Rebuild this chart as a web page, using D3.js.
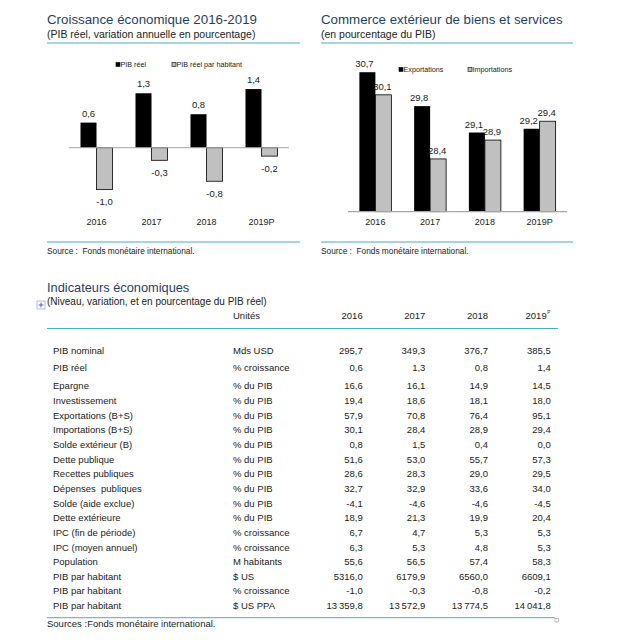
<!DOCTYPE html>
<html>
<head>
<meta charset="utf-8">
<script src="https://cdn.jsdelivr.net/npm/d3@7"></script>
<style>
  body { margin: 0; background: #fff; }
  text { font-family: "Liberation Sans", Arial, sans-serif; white-space: pre; }
</style>
</head>
<body>
<svg width="638" height="640"></svg>
<script>
var years = ['2016', '2017', '2018', '2019P'];
var pibReel = [0.6, 1.3, 0.8, 1.4];
var pibHabitant = [-1.0, -0.3, -0.8, -0.2];
var exportations = [30.7, 29.8, 29.1, 29.2];
var importations = [30.1, 28.4, 28.9, 29.4];

var tableYears = ['2016', '2017', '2018', '2019'];
var rowLabels = ['PIB nominal', 'PIB réel', 'Epargne', 'Investissement', 'Exportations (B+S)',
  'Importations (B+S)', 'Solde extérieur (B)', 'Dette publique', 'Recettes publiques',
  'Dépenses  publiques', 'Solde (aide exclue)', 'Dette extérieure', 'IPC (fin de période)',
  'IPC (moyen annuel)', 'Population', 'PIB par habitant', 'PIB par habitant', 'PIB par habitant'];
var rowUnits = ['Mds USD', '% croissance', '% du PIB', '% du PIB', '% du PIB', '% du PIB', '% du PIB',
  '% du PIB', '% du PIB', '% du PIB', '% du PIB', '% du PIB', '% croissance', '% croissance',
  'M habitants', '$ US', '% croissance', '$ US PPA'];
var rowValues = [
  [295.7, 349.3, 376.7, 385.5],
  [0.6, 1.3, 0.8, 1.4],
  [16.6, 16.1, 14.9, 14.5],
  [19.4, 18.6, 18.1, 18.0],
  [57.9, 70.8, 76.4, 95.1],
  [30.1, 28.4, 28.9, 29.4],
  [0.8, 1.5, 0.4, 0.0],
  [51.6, 53.0, 55.7, 57.3],
  [28.6, 28.3, 29.0, 29.5],
  [32.7, 32.9, 33.6, 34.0],
  [-4.1, -4.6, -4.6, -4.5],
  [18.9, 21.3, 19.9, 20.4],
  [6.7, 4.7, 5.3, 5.3],
  [6.3, 5.3, 4.8, 5.3],
  [55.6, 56.5, 57.4, 58.3],
  [5316.0, 6179.9, 6560.0, 6609.1],
  [-1.0, -0.3, -0.8, -0.2],
  [13359.8, 13572.9, 13774.5, 14041.8]
];

var titleColor = '#1F3F66';
var lineColor = '#4BACC6';
var greyBar = '#C0C0C0';

var svg = d3.select('svg');
svg.append('rect').attr('width', 638).attr('height', 640).attr('fill', '#fff');

function frNum(v) {
  var s = Math.abs(v).toFixed(1).replace('.', ',');
  if (Math.abs(v) >= 10000) {
    s = s.slice(0, s.length - 5) + '\u2009' + s.slice(s.length - 5);
  }
  return (v < 0 ? '-' : '') + s;
}

function header(x, x2, title, sub) {
  svg.append('text').text(title)
    .attr('x', x).attr('y', 24)
    .attr('font-size', 13.3).attr('fill', titleColor);
  svg.append('text').text(sub)
    .attr('x', x).attr('y', 38)
    .attr('font-size', 10.5).attr('fill', '#222');
  svg.append('line')
    .attr('x1', x).attr('x2', x2).attr('y1', 43).attr('y2', 43)
    .attr('stroke', lineColor).attr('stroke-width', 1.2);
  svg.append('line')
    .attr('x1', x).attr('x2', x2).attr('y1', 242).attr('y2', 242)
    .attr('stroke', lineColor).attr('stroke-width', 1.2);
  svg.append('text').text('Source :  Fonds monétaire international.')
    .attr('x', x).attr('y', 253.8)
    .attr('font-size', 8.3).attr('fill', '#222');
}

function legendItem(x, y, color, label) {
  svg.append('rect')
    .attr('x', x).attr('y', y - 2).attr('width', 4).attr('height', 4)
    .attr('fill', color).attr('stroke', '#000').attr('stroke-width', 0.6);
  svg.append('text').text(label)
    .attr('x', x + 4.5).attr('y', y + 2.5)
    .attr('font-size', 7.2).attr('fill', '#222');
}

// ---- Croissance économique ----
header(47, 300, 'Croissance économique 2016-2019', '(PIB réel, variation annuelle en pourcentage)');

var x1 = d3.scaleBand().domain(years).range([69, 289]);
var y1 = d3.scaleLinear().domain([-1.2, 1.6]).range([198, 80.7]);
var bw = 16;

legendItem(116, 64.5, '#000', 'PIB réel');
legendItem(172, 64.5, greyBar, 'PIB réel par habitant');

var g1 = svg.append('g');
g1.selectAll('.reel').data(pibReel).enter().append('rect')
  .attr('x', function(d, i){ return x1(years[i]) + x1.bandwidth() / 2 - bw; })
  .attr('y', function(d){ return y1(Math.max(0, d)); })
  .attr('width', bw)
  .attr('height', function(d){ return Math.abs(y1(d) - y1(0)); })
  .attr('fill', '#000');
g1.selectAll('.hab').data(pibHabitant).enter().append('rect')
  .attr('x', function(d, i){ return x1(years[i]) + x1.bandwidth() / 2; })
  .attr('y', function(d){ return y1(Math.max(0, d)); })
  .attr('width', bw)
  .attr('height', function(d){ return Math.abs(y1(d) - y1(0)); })
  .attr('fill', greyBar).attr('stroke', '#000').attr('stroke-width', 0.8);

svg.append('line')
  .attr('x1', 69).attr('x2', 289).attr('y1', y1(0)).attr('y2', y1(0))
  .attr('stroke', '#A6A6A6').attr('stroke-width', 1);

g1.selectAll('.lr').data(pibReel).enter().append('text')
  .text(function(d){ return frNum(d); })
  .attr('x', function(d, i){ return x1(years[i]) + x1.bandwidth() / 2 - bw / 2; })
  .attr('y', function(d){ return y1(d) - 6; })
  .attr('text-anchor', 'middle').attr('font-size', 9.5).attr('fill', '#222');
g1.selectAll('.lh').data(pibHabitant).enter().append('text')
  .text(function(d){ return frNum(d); })
  .attr('x', function(d, i){ return x1(years[i]) + x1.bandwidth() / 2 + bw / 2; })
  .attr('y', function(d){ return y1(d) + 15.5; })
  .attr('text-anchor', 'middle').attr('font-size', 9.5).attr('fill', '#222');

svg.append('g')
  .attr('transform', 'translate(0,' + 218.5 + ')')
  .call(d3.axisBottom(x1).tickSize(0).tickPadding(0))
  .call(function(g){ g.select('.domain').remove(); })
  .selectAll('text')
  .attr('font-size', 9).attr('fill', '#222')
  .attr('font-family', '"Liberation Sans", Arial, sans-serif');

// ---- Commerce extérieur ----
header(321, 573, 'Commerce extérieur de biens et services', '(en pourcentage du PIB)');

var x2 = d3.scaleBand().domain(years).range([348, 567]);
var y2 = d3.scaleLinear().domain([27, 31]).range([211.7, 60.9]);

legendItem(399, 69.5, '#000', 'Exportations');
legendItem(468, 69.5, greyBar, 'Importations');

var g2 = svg.append('g');
g2.selectAll('.exp').data(exportations).enter().append('rect')
  .attr('x', function(d, i){ return x2(years[i]) + x2.bandwidth() / 2 - bw; })
  .attr('y', function(d){ return y2(d); })
  .attr('width', bw)
  .attr('height', function(d){ return y2(27) - y2(d); })
  .attr('fill', '#000');
g2.selectAll('.imp').data(importations).enter().append('rect')
  .attr('x', function(d, i){ return x2(years[i]) + x2.bandwidth() / 2; })
  .attr('y', function(d){ return y2(d); })
  .attr('width', bw)
  .attr('height', function(d){ return y2(27) - y2(d); })
  .attr('fill', greyBar).attr('stroke', '#000').attr('stroke-width', 0.8);

svg.append('line')
  .attr('x1', 348).attr('x2', 567).attr('y1', y2(27)).attr('y2', y2(27))
  .attr('stroke', '#A6A6A6').attr('stroke-width', 1.2);

g2.selectAll('.le').data(exportations).enter().append('text')
  .text(function(d){ return frNum(d); })
  .attr('x', function(d, i){ return x2(years[i]) + x2.bandwidth() / 2 - bw / 2 - 3; })
  .attr('y', function(d){ return y2(d) - 5; })
  .attr('text-anchor', 'middle').attr('font-size', 9.5).attr('fill', '#222');
g2.selectAll('.li').data(importations).enter().append('text')
  .text(function(d){ return frNum(d); })
  .attr('x', function(d, i){ return x2(years[i]) + x2.bandwidth() / 2 + bw / 2 - 1; })
  .attr('y', function(d){ return y2(d) - 5; })
  .attr('text-anchor', 'middle').attr('font-size', 9.5).attr('fill', '#222');

svg.append('g')
  .attr('transform', 'translate(0,' + 218.5 + ')')
  .call(d3.axisBottom(x2).tickSize(0).tickPadding(0))
  .call(function(g){ g.select('.domain').remove(); })
  .selectAll('text')
  .attr('font-size', 9).attr('fill', '#222')
  .attr('font-family', '"Liberation Sans", Arial, sans-serif');

// ---- Indicateurs économiques ----
svg.append('text').text('Indicateurs économiques')
  .attr('x', 47).attr('y', 292)
  .attr('font-size', 12.8).attr('fill', titleColor);
svg.append('text').text('(Niveau, variation, et en pourcentage du PIB réel)')
  .attr('x', 47).attr('y', 305)
  .attr('font-size', 10).attr('fill', '#222');

// petite poignée de tableau
var icon = svg.append('g').attr('transform', 'translate(37,301)');
icon.append('rect').attr('width', 8).attr('height', 8)
  .attr('fill', '#fff').attr('stroke', '#8FA5C8').attr('stroke-width', 0.7);
icon.append('path').attr('d', 'M4,1.5V6.5M1.5,4H6.5')
  .attr('stroke', '#2F5FB0').attr('stroke-width', 0.9);

var colX = d3.scalePoint().domain(tableYears).range([362.7, 550.7]);
var rowY = d3.scaleLinear().domain([0, 1, 2, rowLabels.length - 1]).range([351, 367.7, 386, 605.7]);

svg.append('text').text('Unités')
  .attr('x', 233).attr('y', 319).attr('font-size', 9.5).attr('fill', '#222');
svg.selectAll('.hdr').data(tableYears).enter().append('text')
  .text(function(d){ return d; })
  .attr('x', function(d, i){ return colX(d) - (i == 3 ? 4 : 0); })
  .attr('y', 319)
  .attr('text-anchor', 'end').attr('font-size', 9.5).attr('fill', '#222');
svg.append('text').text('P')
  .attr('x', colX('2019') - 3.5).attr('y', 314)
  .attr('font-size', 4.5).attr('fill', '#222');

svg.append('line')
  .attr('x1', 47).attr('x2', 558).attr('y1', 328.5).attr('y2', 328.5)
  .attr('stroke', lineColor).attr('stroke-width', 1.2);

var rows = svg.selectAll('.row').data(rowLabels).enter().append('g')
  .attr('transform', function(d, i){ return 'translate(0,' + (rowY(i) + 3.4) + ')'; });
rows.append('text').text(function(d){ return d; })
  .attr('x', 53).attr('font-size', 9.5).attr('fill', '#222');
rows.append('text').text(function(d, i){ return rowUnits[i]; })
  .attr('x', 233).attr('font-size', 9.5).attr('fill', '#222');
rows.each(function(d, i){
  d3.select(this).selectAll('.v').data(rowValues[i]).enter().append('text')
    .text(function(v){ return frNum(v); })
    .attr('x', function(v, j){ return colX(tableYears[j]); })
    .attr('text-anchor', 'end').attr('font-size', 9.5).attr('fill', '#222');
});

svg.append('line')
  .attr('x1', 47).attr('x2', 555).attr('y1', 617.7).attr('y2', 617.7)
  .attr('stroke', lineColor).attr('stroke-width', 1);
svg.append('text').text('Sources :Fonds monétaire international.')
  .attr('x', 47).attr('y', 627).attr('font-size', 9.5).attr('fill', '#222');
svg.append('rect')
  .attr('x', 555).attr('y', 618.5).attr('width', 3.5).attr('height', 3.5)
  .attr('fill', '#fff').attr('stroke', '#888').attr('stroke-width', 0.5);
</script>
</body>
</html>
